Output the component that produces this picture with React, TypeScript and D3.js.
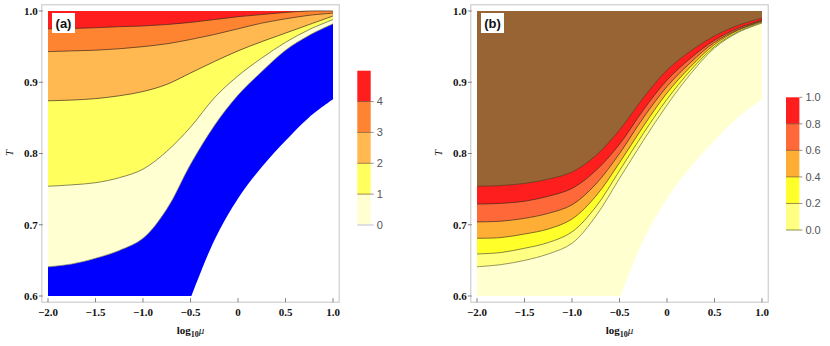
import * as d3 from 'd3';

// log10(mu) sample points shared by all contour curves
const MU = [-2, -1.75, -1.5, -1.25, -1, -0.75, -0.5, -0.25, 0, 0.25, 0.5, 0.75, 1];
const TOP_T = [1, 1, 1, 1, 1, 1, 1, 1, 1, 1, 1, 1, 1];

// panel (a): contour levels 0..4
const A_LEVEL4 = [0.975, 0.9755, 0.9765, 0.978, 0.979, 0.981, 0.984, 0.988, 0.992, 0.995, 0.998, 1.0, 1.0];
const A_LEVEL3 = [0.943, 0.944, 0.945, 0.947, 0.95, 0.954, 0.96, 0.967, 0.975, 0.983, 0.989, 0.994, 0.997];
const A_LEVEL2 = [0.874, 0.875, 0.877, 0.881, 0.887, 0.897, 0.913, 0.929, 0.944, 0.957, 0.969, 0.981, 0.993];
const A_LEVEL1 = [0.754, 0.756, 0.759, 0.766, 0.778, 0.803, 0.837, 0.878, 0.909, 0.934, 0.956, 0.974, 0.988];
const A_LEVEL0 = [0.641, 0.645, 0.653, 0.664, 0.681, 0.722, 0.785, 0.839, 0.882, 0.915, 0.945, 0.966, 0.982];

// panel (b): contour levels 0.0..1.0
const B_LEVEL10 = [0.754, 0.755, 0.758, 0.764, 0.774, 0.797, 0.833, 0.878, 0.917, 0.944, 0.965, 0.98, 0.99];
const B_LEVEL08 = [0.729, 0.73, 0.733, 0.74, 0.751, 0.776, 0.813, 0.861, 0.903, 0.934, 0.959, 0.976, 0.987];
const B_LEVEL06 = [0.704, 0.705, 0.709, 0.716, 0.728, 0.757, 0.8, 0.85, 0.894, 0.928, 0.956, 0.974, 0.986];
const B_LEVEL04 = [0.681, 0.682, 0.687, 0.694, 0.708, 0.74, 0.787, 0.838, 0.885, 0.922, 0.953, 0.973, 0.985];
const B_LEVEL02 = [0.659, 0.661, 0.667, 0.675, 0.69, 0.725, 0.776, 0.828, 0.876, 0.917, 0.95, 0.971, 0.984];
const B_LEVEL00 = [0.641, 0.644, 0.65, 0.659, 0.674, 0.712, 0.765, 0.818, 0.868, 0.912, 0.948, 0.97, 0.983];

// edge of the computed domain (white beyond it)
const EDGE_MU = [-0.49, -0.25, 0, 0.25, 0.5, 0.75, 1];
const EDGE_T = [0.6, 0.678, 0.737, 0.781, 0.818, 0.851, 0.876];

const X_TICKS = [-2, -1.5, -1, -0.5, 0, 0.5, 1];
const X_TICK_LABELS = ['\u22122.0', '\u22121.5', '\u22121.0', '\u22120.5', '0', '0.5', '1.0'];
const Y_TICKS = [0.6, 0.7, 0.8, 0.9, 1.0];
const Y_TICK_LABELS = ['0.6', '0.7', '0.8', '0.9', '1.0'];

const A_LEGEND_STOPS = [0, 1, 2, 3, 4, 5];
const A_LEGEND_TICKS = [0, 1, 2, 3, 4];
const A_COLORS = ['#ffffd2', '#ffff5e', '#ffb950', '#ff8432', '#ff1e1e'];

const B_LEGEND_STOPS = [0, 0.2, 0.4, 0.6, 0.8, 1.0];
const B_LEGEND_TICKS = ['0.0', '0.2', '0.4', '0.6', '0.8', '1.0'];
const B_COLORS = ['#ffff82', '#ffff2a', '#ffae35', '#ff6838', '#ff1e1e'];

const CREAM = '#ffffcf';
const BLUE = '#0000ff';
const BROWN = '#986434';

const SERIF = "'Liberation Serif', 'Times New Roman', serif";
const SANS = "'Liberation Sans', Arial, sans-serif";

function Panel({ x0, label, bands, lines }) {
  const x = d3.scaleLinear().domain([-2, 1]).range([x0, x0 + 285]);
  const y = d3.scaleLinear().domain([0.6, 1]).range([296, 11]);
  const curve = d3.curveCatmullRom.alpha(0.5);

  const area = (upper) =>
    d3.area().x((d, i) => x(MU[i])).y0(y(0.6)).y1(d => y(d)).curve(curve)(upper);
  const line = d3.line().x((d, i) => x(MU[i])).y(d => y(d)).curve(curve);
  const edge = d3.area().x((d, i) => x(EDGE_MU[i])).y0(y(0.6) + 1).y1(d => y(d)).curve(curve)(EDGE_T);

  const fx0 = x(-2.06) - 0.5, fx1 = x(1.06) + 0.5, fy0 = y(1.008) - 0.5, fy1 = y(0.592) + 0.5;

  return (
    <g>
      {bands.map((b, i) => (
        <path key={i} d={area(b.upper)} fill={b.fill} />
      ))}
      <path d={edge} fill="#fff" />
      {lines.map((l, i) => (
        <path key={i} d={line(l.t)} fill="none" stroke={l.stroke} strokeWidth={0.7} />
      ))}
      <rect x={x(1)} y={y(0.876)} width={fx1 - x(1) - 1} height={y(0.6) - y(0.876) + 1} fill="#fff" />
      <rect x={fx0} y={fy0} width={fx1 - fx0} height={fy1 - fy0} fill="none" stroke="#c4c4c4" strokeWidth={1} />
      {X_TICKS.map((t, i) => (
        <g key={i}>
          <line x1={x(t)} x2={x(t)} y1={fy1} y2={fy1 - 4} stroke="#666" strokeWidth={0.8} />
          <text x={x(t)} y={316} textAnchor="middle" fontFamily={SERIF} fontWeight="bold" fontSize={11} fill="#111">
            {X_TICK_LABELS[i]}
          </text>
        </g>
      ))}
      {Y_TICKS.map((t, i) => (
        <g key={i}>
          <line x1={fx0 - 3} x2={fx0 + 1} y1={y(t)} y2={y(t)} stroke="#666" strokeWidth={0.8} />
          <text x={fx0 - 4} y={y(t) + 3.8} textAnchor="end" fontFamily={SERIF} fontWeight="bold" fontSize={11} fill="#111">
            {Y_TICK_LABELS[i]}
          </text>
        </g>
      ))}
      <text x={(x(-2) + x(1)) / 2} y={334} textAnchor="middle" fontFamily={SERIF} fontWeight="bold" fontSize={11} fill="#111">
        log<tspan fontSize={8} dy={3}>10</tspan><tspan dy={-3} fontStyle="italic" fontWeight="normal">μ</tspan>
      </text>
      <text transform={`translate(${fx0 - 29},153) rotate(-90)`} textAnchor="middle" fontFamily={SERIF} fontStyle="italic" fontSize={11} fill="#111">
        T
      </text>
      <rect x={x(-2) + 4} y={13} width={23} height={20} fill="#fff" />
      <text x={x(-2) + 15.5} y={28} textAnchor="middle" fontFamily={SANS} fontWeight="bold" fontSize={13} fill="#111">
        {label}
      </text>
    </g>
  );
}

function Legend({ x0, top, bottom, stops, colors, ticks, tickLabels, zeroStroke }) {
  const s = d3.scaleLinear().domain([stops[0], stops[stops.length - 1]]).range([bottom, top]);
  const w = 13.4;
  return (
    <g>
      {colors.map((c, i) => (
        <rect key={i} x={x0} y={s(stops[i + 1])} width={w} height={s(stops[i]) - s(stops[i + 1])} fill={c} />
      ))}
      {stops.slice(1, -1).map((v, i) => (
        <line key={i} x1={x0} x2={x0 + w} y1={s(v)} y2={s(v)} stroke="#6b4a2a" strokeWidth={0.8} strokeOpacity={0.8} />
      ))}
      {ticks.map((v, i) => (
        <g key={i}>
          <line x1={x0 + (i === 0 ? 0 : w)} x2={x0 + w + 3} y1={s(v)} y2={s(v)} stroke={i === 0 ? zeroStroke : '#777'} strokeWidth={0.8} />
          <text x={x0 + w + 6} y={s(v) + 3.8} fontFamily={SANS} fontSize={11} fill="#555">
            {tickLabels[i]}
          </text>
        </g>
      ))}
    </g>
  );
}

export default function App() {
  const dark = '#3b2a1c';
  const bandsA = [
    { fill: A_COLORS[4], upper: TOP_T },
    { fill: A_COLORS[3], upper: A_LEVEL4 },
    { fill: A_COLORS[2], upper: A_LEVEL3 },
    { fill: A_COLORS[1], upper: A_LEVEL2 },
    { fill: A_COLORS[0], upper: A_LEVEL1 },
    { fill: BLUE, upper: A_LEVEL0 },
  ];
  const linesA = [
    { t: A_LEVEL4, stroke: dark },
    { t: A_LEVEL3, stroke: dark },
    { t: A_LEVEL2, stroke: dark },
    { t: A_LEVEL1, stroke: '#555533' },
    { t: A_LEVEL0, stroke: '#9a9a60' },
  ];
  const bandsB = [
    { fill: BROWN, upper: TOP_T },
    { fill: B_COLORS[4], upper: B_LEVEL10 },
    { fill: B_COLORS[3], upper: B_LEVEL08 },
    { fill: B_COLORS[2], upper: B_LEVEL06 },
    { fill: B_COLORS[1], upper: B_LEVEL04 },
    { fill: B_COLORS[0], upper: B_LEVEL02 },
    { fill: CREAM, upper: B_LEVEL00 },
  ];
  const linesB = [
    { t: B_LEVEL10, stroke: '#5a3a20' },
    { t: B_LEVEL08, stroke: dark },
    { t: B_LEVEL06, stroke: dark },
    { t: B_LEVEL04, stroke: '#4a3a1c' },
    { t: B_LEVEL02, stroke: '#555530' },
    { t: B_LEVEL00, stroke: '#6b6b3a' },
  ];
  return (
    <svg width={830} height={346} style={{ position: 'absolute', left: 0, top: 0 }}>
      <rect width={830} height={346} fill="#fff" />
      <Panel x0={48} label="(a)" bands={bandsA} lines={linesA} />
      <Panel x0={477} label="(b)" bands={bandsB} lines={linesB} />
      <Legend x0={357.3} top={70.7} bottom={225} stops={A_LEGEND_STOPS} colors={A_COLORS}
        ticks={A_LEGEND_TICKS} tickLabels={A_LEGEND_TICKS.map(String)} zeroStroke="#aab0d8" />
      <Legend x0={786} top={97.3} bottom={230} stops={B_LEGEND_STOPS} colors={B_COLORS}
        ticks={B_LEGEND_STOPS} tickLabels={B_LEGEND_TICKS} zeroStroke="#777733" />
    </svg>
  );
}
